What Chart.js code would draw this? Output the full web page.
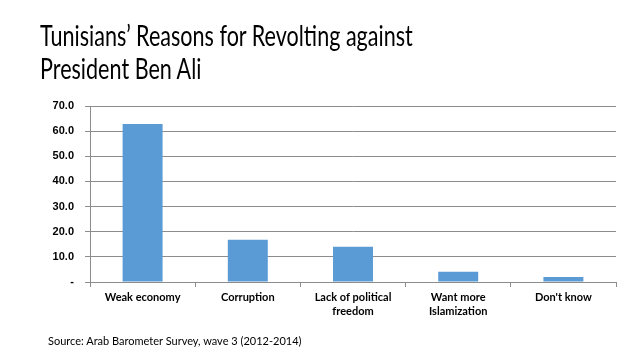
<!DOCTYPE html>
<html>
<head>
<meta charset="utf-8">
<script src="https://cdn.jsdelivr.net/npm/chart.js@4.4.0/dist/chart.umd.min.js"></script>
<style>
  html, body { margin: 0; padding: 0; background: #fff; }
  #wrap { position: relative; width: 638px; height: 359px; overflow: hidden; font-family: Lato, "Open Sans", sans-serif; }
  #title { position: absolute; left: 40px; top: 19px; font-size: 28px; line-height: 33px; color: #000;
           transform: scaleX(0.77); transform-origin: left top; white-space: nowrap; }
  #source { position: absolute; left: 48px; top: 334px; font-size: 11px; color: #000; }
  #box { position: absolute; left: 0; top: 0; width: 638px; height: 359px; }
</style>
</head>
<body>
<div id="wrap">
  <div id="box"><canvas id="chart"></canvas></div>
  <div id="title">Tunisians’ Reasons for Revolting against<br>President Ben Ali</div>
  <div id="source">Source: Arab Barometer Survey, wave 3 (2012-2014)</div>
</div>
<script>
const categories = [["Weak economy"], ["Corruption"], ["Lack of political", "freedom"], ["Want more", "Islamization"], ["Don't know"]];
const values = [62.8, 16.8, 14.0, 4.1, 2.0];
const yTicks = [0, 10, 20, 30, 40, 50, 60, 70];

document.addEventListener("DOMContentLoaded", () => {
    const ctx = document.getElementById("chart");
    new Chart(ctx, {
        type: "bar",
        data: {
            labels: categories,
            datasets: [
                {
                    data: values,
                    backgroundColor: "#5B9BD5",
                    barPercentage: 0.38,
                    categoryPercentage: 1,
                },
            ],
        },
        options: {
            responsive: true,
            maintainAspectRatio: false,
            animation: false,
            layout: { padding: { top: 106, right: 22, bottom: 0, left: 0 } },
            plugins: { legend: { display: false }, tooltip: { enabled: false } },
            scales: {
                x: {
                    afterFit: (s) => { s.height = 77; },
                    grid: { drawOnChartArea: false, drawTicks: true, tickLength: 5, color: "#8c8c8c", offset: true },
                    border: { color: "#8c8c8c" },
                    ticks: { color: "#000", font: { family: "Lato", size: 11, weight: "bold", lineHeight: 1.3 }, padding: 3, maxRotation: 0 },
                },
                y: {
                    min: 0,
                    max: 70,
                    afterFit: (s) => { s.width = 90; },
                    afterBuildTicks: (s) => { s.ticks = yTicks.map((v) => ({ value: v })); },
                    grid: { color: "#8c8c8c", tickLength: 5 },
                    border: { color: "#8c8c8c" },
                    ticks: {
                        color: "#000",
                        padding: 11,
                        font: { family: "Liberation Sans", size: 11, weight: "bold" },
                        callback: (v) => (v === 0 ? "-" : v.toFixed(1)),
                    },
                },
            },
        },
    });
});
</script>
</body>
</html>
